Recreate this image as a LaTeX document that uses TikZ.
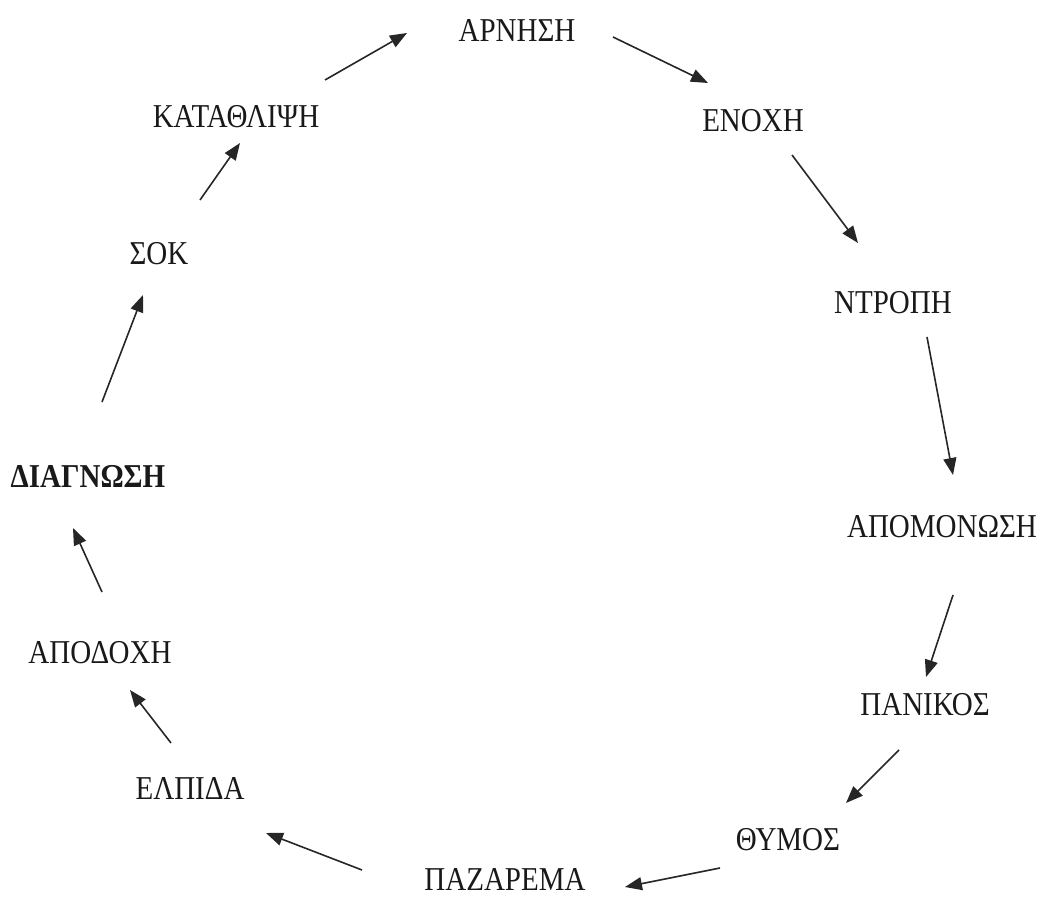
\documentclass[tikz,border=0pt]{standalone}
\usepackage{fontspec}
\setmainfont{Liberation Serif}
\usetikzlibrary{arrows.meta}
\newcommand{\stagetext}[1]{\scalebox{1}[1.15]{#1}}
\tikzset{
  stage/.style={inner sep=0pt, font=\fontsize{29}{30}\selectfont, text=black!90},
  flow/.style={line width=1.6pt, draw=black!85,
    -{Triangle[length=17pt,width=13pt]}}
}
\begin{document}
\begin{tikzpicture}[x=1pt,y=-1pt]
\useasboundingbox (0,0) rectangle (1047,901);
% stages of the cycle
\node[stage] (arnisi)    at (517,30)  {\stagetext{ΑΡΝΗΣΗ}};
\node[stage] (enochi)    at (753,121) {\stagetext{ΕΝΟΧΗ}};
\node[stage] (ntropi)    at (893,303) {\stagetext{ΝΤΡΟΠΗ}};
\node[stage] (apomonosi) at (942,527) {\stagetext{ΑΠΟΜΟΝΩΣΗ}};
\node[stage] (panikos)   at (925,705) {\stagetext{ΠΑΝΙΚΟΣ}};
\node[stage] (thymos)    at (788,840) {\stagetext{ΘΥΜΟΣ}};
\node[stage] (pazarema)  at (505,879) {\stagetext{ΠΑΖΑΡΕΜΑ}};
\node[stage] (elpida)    at (190,788) {\stagetext{ΕΛΠΙΔΑ}};
\node[stage] (apodochi)  at (100,653) {\stagetext{ΑΠΟΔΟΧΗ}};
\node[stage] (diagnosi)  at (88,476)  {\stagetext{\bfseries ΔΙΑΓΝΩΣΗ}};
\node[stage] (sok)       at (159,254) {\stagetext{ΣΟΚ}};
\node[stage] (katathlipsi) at (236,117) {\stagetext{ΚΑΤΑΘΛΙΨΗ}};
% arrow end points
\coordinate (s1) at (325,80);  \coordinate (e1) at (407,33);
\coordinate (s2) at (613,37);  \coordinate (e2) at (708,83);
\coordinate (s3) at (792,155); \coordinate (e3) at (858,243);
\coordinate (s4) at (927,337); \coordinate (e4) at (953,475);
\coordinate (s5) at (953,595); \coordinate (e5) at (926,677);
\coordinate (s6) at (899,750); \coordinate (e6) at (846,803);
\coordinate (s7) at (720,868); \coordinate (e7) at (625,887);
\coordinate (s8) at (362,870); \coordinate (e8) at (266,833);
\coordinate (s9) at (171,743); \coordinate (e9) at (130,690);
\coordinate (s10) at (102,592); \coordinate (e10) at (73,528);
\coordinate (s11) at (102,402); \coordinate (e11) at (143,295);
\coordinate (s12) at (200,200); \coordinate (e12) at (240,143);
\foreach \i in {1,...,12} {\draw[flow] (s\i) -- (e\i);}
\end{tikzpicture}
\end{document}
